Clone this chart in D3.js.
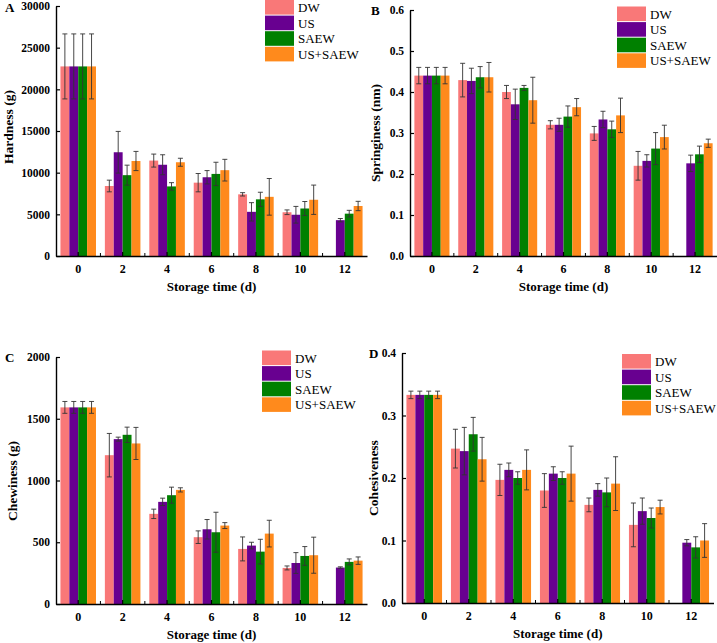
<!DOCTYPE html>
<html>
<head>
<meta charset="utf-8">
<script src="https://cdn.jsdelivr.net/npm/d3@7/dist/d3.min.js"></script>
<style>
  html, body { margin: 0; padding: 0; background: #fff; }
  svg { display: block; }
  text { font-family: "Liberation Serif", "Times New Roman", serif; fill: #000; }
</style>
</head>
<body>
<svg id="chart" width="717" height="643"></svg>
<script>
// ---------------- DATA ----------------
const days = ["0", "2", "4", "6", "8", "10", "12"];
const seriesNames = ["DW", "US", "SAEW", "US+SAEW"];
const seriesColors = ["#F97878", "#680090", "#008000", "#FF8A1C"];

// Hardness (g)
const hardnessDW      = [22750, 8400, 11450, 8800, 7400, 5250, null];
const hardnessUS      = [22750, 12450, 10950, 9450, 5300, 4950, 4300];
const hardnessSAEW    = [22750, 9700, 8350, 9850, 6800, 5700, 5080];
const hardnessUSSAEW  = [22750, 11400, 11250, 10300, 7100, 6750, 6000];
const hardnessErrDW     = [3900, 700, 780, 1100, 200, 280, null];
const hardnessErrUS     = [3900, 2500, 1200, 800, 1100, 1000, 200];
const hardnessErrSAEW   = [3900, 1200, 450, 1400, 850, 840, 400];
const hardnessErrUSSAEW = [3900, 1150, 480, 1300, 2200, 1760, 560];

// Springiness (nm)
const springDW      = [0.44, 0.429, 0.400, 0.320, 0.299, 0.220, null];
const springUS      = [0.44, 0.427, 0.370, 0.320, 0.333, 0.232, 0.226];
const springSAEW    = [0.44, 0.436, 0.410, 0.340, 0.309, 0.262, 0.248];
const springUSSAEW  = [0.44, 0.436, 0.380, 0.363, 0.343, 0.290, 0.275];
const springErrDW     = [0.02, 0.041, 0.016, 0.010, 0.017, 0.035, null];
const springErrUS     = [0.02, 0.031, 0.037, 0.016, 0.020, 0.015, 0.020];
const springErrSAEW   = [0.02, 0.026, 0.006, 0.026, 0.020, 0.039, 0.020];
const springErrUSSAEW = [0.02, 0.036, 0.056, 0.021, 0.042, 0.029, 0.010];

// Chewiness (g)
const chewDW      = [1592, 1205, 730, 541, 446, 292, null];
const chewUS      = [1592, 1335, 827, 605, 473, 332, 295];
const chewSAEW    = [1592, 1370, 881, 581, 424, 389, 341];
const chewUSSAEW  = [1592, 1300, 924, 635, 570, 395, 351];
const chewErrDW     = [48, 176, 38, 51, 97, 16, null];
const chewErrUS     = [48, 16, 30, 79, 27, 84, 6];
const chewErrSAEW   = [48, 62, 65, 162, 100, 76, 24];
const chewErrUSSAEW = [48, 130, 17, 24, 108, 146, 30];

// Cohesiveness
const cohDW      = [0.333, 0.247, 0.197, 0.180, 0.157, 0.125, null];
const cohUS      = [0.333, 0.243, 0.213, 0.207, 0.181, 0.147, 0.0965];
const cohSAEW    = [0.333, 0.270, 0.200, 0.200, 0.177, 0.136, 0.089];
const cohUSSAEW  = [0.333, 0.230, 0.213, 0.207, 0.191, 0.1535, 0.100];
const cohErrDW     = [0.006, 0.031, 0.025, 0.027, 0.011, 0.035, null];
const cohErrUS     = [0.006, 0.038, 0.011, 0.011, 0.010, 0.021, 0.005];
const cohErrSAEW   = [0.006, 0.027, 0.010, 0.010, 0.023, 0.016, 0.017];
const cohErrUSSAEW = [0.006, 0.035, 0.032, 0.044, 0.043, 0.011, 0.027];

// Axis tick values
const hardnessTicks = [0, 5000, 10000, 15000, 20000, 25000, 30000];
const springTicks   = [0, 0.1, 0.2, 0.3, 0.4, 0.5, 0.6];
const chewTicks     = [0, 500, 1000, 1500, 2000];
const cohTicks      = [0, 0.1, 0.2, 0.3, 0.4];

// ---------------- LAYOUT ----------------
const panels = [
  { letter: "A", title: "Hardness (g)", values: [hardnessDW, hardnessUS, hardnessSAEW, hardnessUSSAEW],
    errors: [hardnessErrDW, hardnessErrUS, hardnessErrSAEW, hardnessErrUSSAEW],
    ticks: hardnessTicks, fmt: d3.format("d"), ymax: 30000,
    x0: 56, x1: 367, yTop: 6, yBot: 256,
    letterPos: [5, 11.5], ytitlePos: [12.5, 127],
    legend: [265, 0] },
  { letter: "B", title: "Springiness (nm)", values: [springDW, springUS, springSAEW, springUSSAEW],
    errors: [springErrDW, springErrUS, springErrSAEW, springErrUSSAEW],
    ticks: springTicks, fmt: d3.format(".1f"), ymax: 0.6,
    x0: 410, x1: 717, yTop: 10, yBot: 256,
    letterPos: [371, 14.5], ytitlePos: [379.5, 133],
    legend: [617, 6.5] },
  { letter: "C", title: "Chewiness (g)", values: [chewDW, chewUS, chewSAEW, chewUSSAEW],
    errors: [chewErrDW, chewErrUS, chewErrSAEW, chewErrUSSAEW],
    ticks: chewTicks, fmt: d3.format("d"), ymax: 2000,
    x0: 56, x1: 367, yTop: 357, yBot: 604,
    letterPos: [5, 361.5], ytitlePos: [17, 481],
    legend: [262, 350.5] },
  { letter: "D", title: "Cohesiveness", values: [cohDW, cohUS, cohSAEW, cohUSSAEW],
    errors: [cohErrDW, cohErrUS, cohErrSAEW, cohErrUSSAEW],
    ticks: cohTicks, fmt: d3.format(".1f"), ymax: 0.4,
    x0: 402, x1: 713.5, yTop: 353, yBot: 603,
    letterPos: [369, 357.5], ytitlePos: [377.5, 478],
    legend: [622, 354] }
];

const svg = d3.select("#chart");

panels.forEach(p => {
  const g = svg.append("g");
  const x = d3.scaleBand().domain(days).range([p.x0, p.x1]).paddingInner(0.2).paddingOuter(0.1);
  const xs = d3.scaleBand().domain(seriesNames).range([0, x.bandwidth()]);
  const y = d3.scaleLinear().domain([0, p.ymax]).range([p.yBot, p.yTop]);

  // bars
  seriesNames.forEach((s, si) => {
    const data = days.map((d, i) => ({ d, v: p.values[si][i], e: p.errors[si][i] })).filter(o => o.v != null);
    g.append("g").selectAll("rect").data(data).join("rect")
      .attr("x", o => x(o.d) + xs(s))
      .attr("width", xs.bandwidth())
      .attr("y", o => y(o.v))
      .attr("height", o => y(0) - y(o.v))
      .attr("fill", seriesColors[si]);
  });
  // error bars
  seriesNames.forEach((s, si) => {
    const data = days.map((d, i) => ({ d, v: p.values[si][i], e: p.errors[si][i] })).filter(o => o.v != null && o.e != null);
    const eg = g.append("g").attr("stroke", "#333").attr("stroke-width", 0.9).attr("fill", "none");
    data.forEach(o => {
      const cx = x(o.d) + xs(s) + xs.bandwidth() / 2;
      const yt = y(o.v + o.e), yb = y(o.v - o.e);
      eg.append("line").attr("x1", cx).attr("x2", cx).attr("y1", yt).attr("y2", yb);
      eg.append("line").attr("x1", cx - 2.5).attr("x2", cx + 2.5).attr("y1", yt).attr("y2", yt);
      eg.append("line").attr("x1", cx - 2.5).attr("x2", cx + 2.5).attr("y1", yb).attr("y2", yb);
    });
  });

  // y axis
  const yAxis = d3.axisLeft(y).tickValues(p.ticks).tickFormat(p.fmt).tickSizeInner(-4).tickSizeOuter(0).tickPadding(6);
  const ya = g.append("g").attr("transform", `translate(${p.x0},0)`).call(yAxis);
  ya.select(".domain").attr("stroke", "#000").attr("stroke-width", 1.4);
  ya.selectAll(".tick line").attr("stroke", "#000").attr("stroke-width", 1.2);
  ya.selectAll(".tick text").style("font-family", "Liberation Serif, serif").style("font-weight", "bold").style("font-size", "11.5px").attr("fill", "#000");

  // x axis
  const xAxis = d3.axisBottom(x).tickSizeInner(-4).tickSizeOuter(0).tickPadding(8);
  const xa = g.append("g").attr("transform", `translate(0,${p.yBot})`).call(xAxis);
  xa.select(".domain").attr("stroke", "#000").attr("stroke-width", 1.4);
  xa.selectAll(".tick line").attr("stroke", "#000").attr("stroke-width", 1.2);
  xa.selectAll(".tick text").style("font-family", "Liberation Serif, serif").style("font-weight", "bold").style("font-size", "12px").attr("fill", "#000");
  // minor ticks at band boundaries
  const bounds = days.slice(1).map(d => x(d) - x.step() * x.paddingInner() / 2);
  xa.selectAll("line.minor").data(bounds).join("line").attr("class", "minor")
    .attr("x1", b => b).attr("x2", b => b).attr("y1", 0).attr("y2", -3)
    .attr("stroke", "#000").attr("stroke-width", 1);

  // x axis title
  g.append("text").attr("x", (p.x0 + p.x1) / 2).attr("y", p.yBot + 35)
    .attr("text-anchor", "middle").style("font-weight", "bold").style("font-size", "13px")
    .text("Storage time (d)");

  // y axis title
  g.append("text").attr("transform", `translate(${p.ytitlePos[0]},${p.ytitlePos[1]}) rotate(-90)`)
    .attr("text-anchor", "middle").style("font-weight", "bold").style("font-size", "13.5px")
    .text(p.title);

  // panel letter
  g.append("text").attr("x", p.letterPos[0]).attr("y", p.letterPos[1])
    .style("font-weight", "bold").style("font-size", "13px").text(p.letter);

  // legend
  const lg = g.append("g").attr("transform", `translate(${p.legend[0]},${p.legend[1]})`);
  seriesNames.forEach((s, si) => {
    lg.append("rect").attr("x", 0).attr("y", si * 15.6).attr("width", 29).attr("height", 14.6)
      .attr("fill", seriesColors[si]);
    lg.append("text").attr("x", 33).attr("y", si * 15.6 + 12)
      .style("font-size", "13px").text(s);
  });
});
</script>
</body>
</html>
